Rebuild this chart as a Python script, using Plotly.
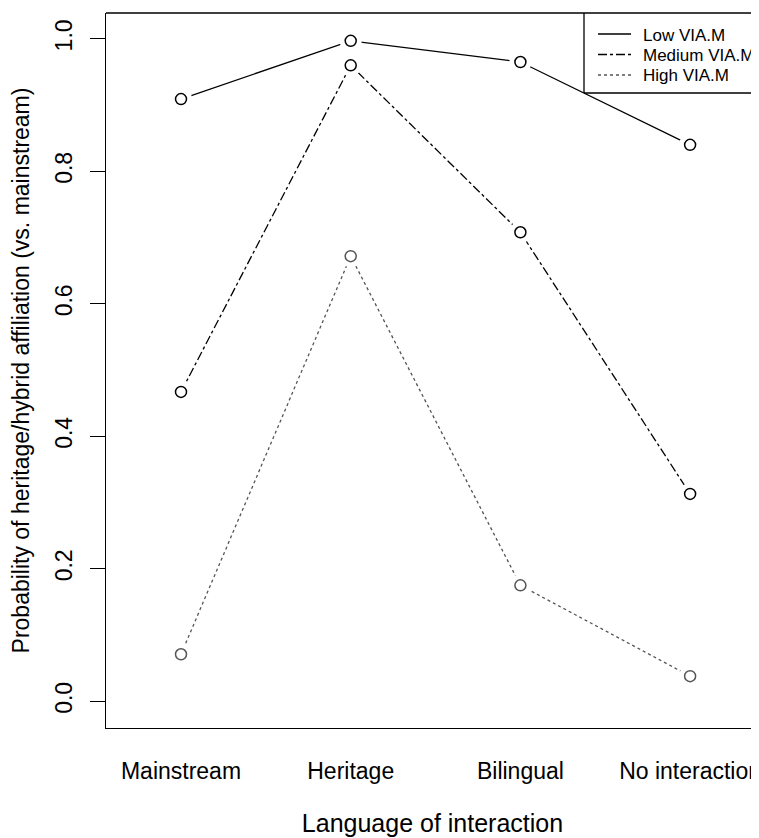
import plotly.graph_objects as go

categories = ["Mainstream", "Heritage", "Bilingual", "No interaction"]
x_pos = [1, 2, 3, 4]
low_via = [0.909, 0.997, 0.965, 0.840]
medium_via = [0.467, 0.960, 0.708, 0.313]
high_via = [0.071, 0.672, 0.175, 0.038]
y_ticks = [0.0, 0.2, 0.4, 0.6, 0.8, 1.0]
y_tick_labels = ["0.0", "0.2", "0.4", "0.6", "0.8", "1.0"]
series_names = ["Low VIA.M", "Medium VIA.M", "High VIA.M"]

FONT = "Liberation Sans, Arial, Helvetica, sans-serif"

styles = [
    (low_via, "black", "solid", "black"),
    (medium_via, "black", "dashdot", "black"),
    (high_via, "#555555", "dot", "#555555"),
]

fig = go.Figure()
for vals, lcol, dash, mcol in reversed(styles):
    fig.add_trace(go.Scatter(x=x_pos, y=vals, mode="lines",
                             line=dict(color=lcol, width=1.3, dash=dash),
                             showlegend=False, hoverinfo="skip"))
    fig.add_trace(go.Scatter(x=x_pos, y=vals, mode="markers",
                             marker=dict(symbol="circle", size=22, color="white",
                                         line=dict(width=0)),
                             showlegend=False, hoverinfo="skip"))
    fig.add_trace(go.Scatter(x=x_pos, y=vals, mode="markers",
                             marker=dict(symbol="circle-open", size=11, color=mcol,
                                         line=dict(width=1.5, color=mcol)),
                             showlegend=False))

# page offset (browser body margin)
OFF = 8
W, H = 759 - OFF, 838 - OFF
L, T, B = 106 - OFF, 13 - OFF, 838 - 728
pw, ph = W - L, H - T - B

def px(xp):
    return (xp - OFF - L) / pw

def py(yp):
    return (H - B - (yp - OFF)) / ph

# frame top line (left & bottom via axis lines, right side cut off)
fig.add_shape(type="line", xref="paper", yref="paper", x0=0, x1=1.01, y0=1, y1=1,
              line=dict(color="black", width=1.3))

# legend box (right side cut off as in reference)
lx0 = px(584)
ly1 = py(93)
fig.add_shape(type="line", xref="paper", yref="paper", x0=lx0, x1=lx0, y0=ly1, y1=1,
              line=dict(color="black", width=1.3))
fig.add_shape(type="line", xref="paper", yref="paper", x0=lx0, x1=1.01, y0=ly1, y1=ly1,
              line=dict(color="black", width=1.3))
legend_y = [34, 54.5, 75]
for (vals, lcol, dash, mcol), name, yy in zip(styles, series_names, legend_y):
    fig.add_shape(type="line", xref="paper", yref="paper", x0=px(598), x1=px(631),
                  y0=py(yy), y1=py(yy), line=dict(color=lcol, width=1.3, dash=dash))
    fig.add_annotation(xref="paper", yref="paper", x=px(641), y=py(yy + 1), text=name,
                       showarrow=False, xanchor="left", yanchor="middle",
                       font=dict(family=FONT, size=17, color="black"))

fig.update_layout(
    width=W, height=H,
    margin=dict(l=L, r=0, t=T, b=B, autoexpand=False),
    paper_bgcolor="white", plot_bgcolor="white",
    font=dict(family=FONT, color="black"),
    xaxis=dict(range=[0.558, 0.558 + pw / 169.7], tickvals=x_pos, ticktext=categories,
               showgrid=False, zeroline=False, showline=True, linecolor="black",
               linewidth=1.3, ticks="", tickfont=dict(size=23), ticklabelstandoff=22,
               ticklabeloverflow="allow",
               title=dict(text="Language of interaction", font=dict(size=25), standoff=31)),
    yaxis=dict(range=[-0.0403, 1.039], tickvals=y_ticks, ticktext=y_tick_labels,
               showgrid=False, zeroline=False, showline=True, linecolor="black",
               linewidth=1.3, ticks="outside", ticklen=15, tickwidth=1.3, tickcolor="black",
               tickangle=-90, tickfont=dict(size=23), ticklabelstandoff=9,
               title=dict(text="Probability of heritage/hybrid affiliation (vs. mainstream)",
                          font=dict(size=23), standoff=18)),
)

fig.write_html("out.html")
